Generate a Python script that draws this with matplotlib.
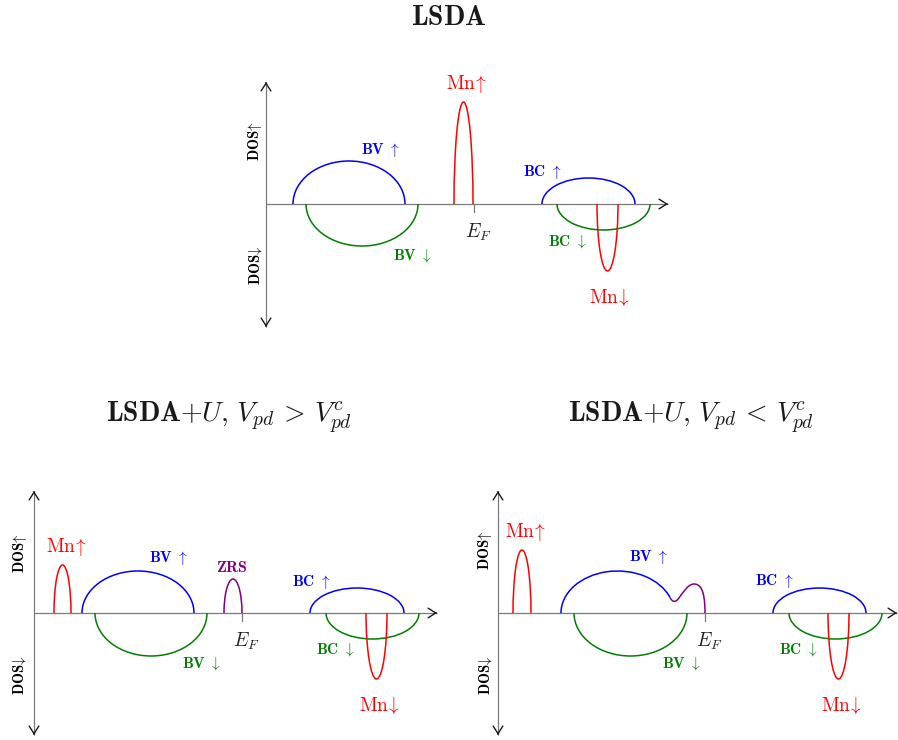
import numpy as np
import matplotlib
matplotlib.use("Agg")
import matplotlib.pyplot as plt
from matplotlib.patches import Arc, PathPatch
from matplotlib.path import Path

plt.rcParams['mathtext.fontset'] = 'cm'
plt.rcParams['font.family'] = ['DejaVu Serif']

# ---------------- data (energy / DOS in arbitrary units) ----------------
# Panel 1: LSDA
lsda_up_kind = ["BV", "Mn", "BC"]
lsda_up_lo = [27, 188, 276]
lsda_up_hi = [139, 207, 369]
lsda_up_h = [43, 102, 26]
lsda_dn_kind = ["BV", "BC", "Mn"]
lsda_dn_lo = [40, 291, 331]
lsda_dn_hi = [152, 384, 352]
lsda_dn_h = [42, 26, 67]
lsda_EF = 208

# Panel 2: LSDA+U, Vpd > Vpd^c
u1_up_kind = ["Mn", "BV", "ZRS", "BC"]
u1_up_lo = [20, 48, 190, 276]
u1_up_hi = [37, 160, 208, 370]
u1_up_h = [48, 42, 34, 25]
u1_dn_kind = ["BV", "BC", "Mn"]
u1_dn_lo = [61, 292, 332]
u1_dn_hi = [173, 385, 353]
u1_dn_h = [43, 26, 66]
u1_EF = 208

# Panel 3: LSDA+U, Vpd < Vpd^c
u2_up_kind = ["Mn", "BV", "BC"]
u2_up_lo = [15, 63, 275]
u2_up_hi = [33, 176, 368]
u2_up_h = [63, 42, 25]
u2_dn_kind = ["BV", "BC", "Mn"]
u2_dn_lo = [76, 291, 330]
u2_dn_hi = [189, 384, 351]
u2_dn_h = [43, 26, 66]
u2_EF = 207
# ZRS shoulder merged into the top of BV (Bezier control points)
u2_zrs_E = [172, 174, 177, 181, 184.6, 190, 196, 202, 207, 207]
u2_zrs_D = [15.5, 11.5, 9.5, 15, 20, 29, 29, 29, 24, 0]

# ---------------- styles / layout ----------------
W, H = 898, 740
C_UP = {"BV": "#0000ff", "BC": "#0000ff", "Mn": "#ff0000", "ZRS": "#800080"}
C_DN = {"BV": "#008000", "BC": "#008000", "Mn": "#ff0000"}
AXIS_C = "#7a7a7a"
HEAD_C = "#1a1a1a"
LW = 1.1

fig = plt.figure(figsize=(W / 100, H / 100), dpi=100)


def make_ax(ox, oy):
    # axes whose data origin sits at pixel (ox, oy) of the figure
    x0, x1 = -60, 420
    y0, y1 = -135, 135
    ax = fig.add_axes([(ox + x0) / W, (H - oy + y0) / H, (x1 - x0) / W, (y1 - y0) / H])
    ax.set_xlim(x0, x1)
    ax.set_ylim(y0, y1)
    ax.axis("off")
    return ax


def draw_axes(ax, xend, ytop, ybot, ef):
    ax.plot([0, xend], [0, 0], color=AXIS_C, lw=0.9, zorder=1, solid_capstyle="butt")
    ax.plot([0, 0], [ybot, ytop], color=AXIS_C, lw=0.9, zorder=1, solid_capstyle="butt")
    style = "->,head_length=0.55,head_width=0.35"
    for tip, tail in [((xend, 0), (xend - 2, 0)), ((0, ytop), (0, ytop - 2)), ((0, ybot), (0, ybot + 2))]:
        ax.annotate("", xy=tip, xytext=tail,
                    arrowprops=dict(arrowstyle=style, color=HEAD_C, lw=1.0,
                                    shrinkA=0, shrinkB=0))
    ax.plot([ef, ef], [0, -8], color=AXIS_C, lw=0.9, zorder=1)


def draw_bands(ax, kinds, lo, hi, h, up=True, skip=()):
    for k, a, b, hh in zip(kinds, lo, hi, h):
        if k in skip:
            continue
        c = (a + b) / 2
        col = C_UP[k] if up else C_DN[k]
        t1, t2 = (0, 180) if up else (180, 360)
        ax.add_patch(Arc((c, 0), b - a, 2 * hh, theta1=t1, theta2=t2,
                         color=col, lw=LW, zorder=3))


def lab(ax, x, y, s, color, size, **kw):
    ax.text(x, y, s, color=color, fontsize=size, ha="center", va="center", **kw)


BSZ = 11
MSZ = 14
DSZ = 10.5

# ---------- Panel 1 ----------
ax1 = make_ax(266, 204)
draw_axes(ax1, 402, 122, -123, lsda_EF)
draw_bands(ax1, lsda_up_kind, lsda_up_lo, lsda_up_hi, lsda_up_h, up=True)
draw_bands(ax1, lsda_dn_kind, lsda_dn_lo, lsda_dn_hi, lsda_dn_h, up=False)
lab(ax1, 114, 54, r"$\mathbf{BV}\ \uparrow$", C_UP["BV"], BSZ)
lab(ax1, 146, -51, r"$\mathbf{BV}\ \downarrow$", C_DN["BV"], BSZ)
lab(ax1, 200, 120, r"$\mathrm{Mn}\!\uparrow$", C_UP["Mn"], MSZ)
lab(ax1, 276, 32, r"$\mathbf{BC}\ \uparrow$", C_UP["BC"], BSZ)
lab(ax1, 301, -37, r"$\mathbf{BC}\ \downarrow$", C_DN["BC"], BSZ)
lab(ax1, 343, -93, r"$\mathrm{Mn}\!\downarrow$", C_DN["Mn"], MSZ)
lab(ax1, 212, -28, r"$E_F$", "#222222", MSZ)
lab(ax1, -11, 63, r"$\mathbf{DOS}\!\uparrow$", "black", DSZ, rotation=90)
lab(ax1, -11, -61, r"$\mathbf{DOS}\!\downarrow$", "black", DSZ, rotation=90)

# ---------- Panel 2 ----------
ax2 = make_ax(34, 613)
draw_axes(ax2, 403, 122, -122, u1_EF)
draw_bands(ax2, u1_up_kind, u1_up_lo, u1_up_hi, u1_up_h, up=True)
draw_bands(ax2, u1_dn_kind, u1_dn_lo, u1_dn_hi, u1_dn_h, up=False)
lab(ax2, 32, 66, r"$\mathrm{Mn}\!\uparrow$", C_UP["Mn"], MSZ)
lab(ax2, 134, 55, r"$\mathbf{BV}\ \uparrow$", C_UP["BV"], BSZ)
lab(ax2, 198, 45, r"$\mathbf{ZRS}$", C_UP["ZRS"], 11.5)
lab(ax2, 277, 31, r"$\mathbf{BC}\ \uparrow$", C_UP["BC"], BSZ)
lab(ax2, 212, -28, r"$E_F$", "#222222", MSZ)
lab(ax2, 167, -50, r"$\mathbf{BV}\ \downarrow$", C_DN["BV"], BSZ)
lab(ax2, 301, -37, r"$\mathbf{BC}\ \downarrow$", C_DN["BC"], BSZ)
lab(ax2, 345, -92, r"$\mathrm{Mn}\!\downarrow$", C_DN["Mn"], MSZ)
lab(ax2, -14, 60, r"$\mathbf{DOS}\!\uparrow$", "black", DSZ, rotation=90)
lab(ax2, -14, -62, r"$\mathbf{DOS}\!\downarrow$", "black", DSZ, rotation=90)

# ---------- Panel 3 ----------
ax3 = make_ax(498, 613)
draw_axes(ax3, 399, 122, -122, u2_EF)
draw_bands(ax3, u2_up_kind, u2_up_lo, u2_up_hi, u2_up_h, up=True, skip=("BV",))
draw_bands(ax3, u2_dn_kind, u2_dn_lo, u2_dn_hi, u2_dn_h, up=False)
# BV up: arc from left edge to where the ZRS shoulder starts
i = u2_up_kind.index("BV")
a, b, hh = u2_up_lo[i], u2_up_hi[i], u2_up_h[i]
cx, hw = (a + b) / 2, (b - a) / 2
t = np.arcsin(u2_zrs_D[0] / hh)
theta1 = np.degrees(np.arctan2(hh * np.sin(t), hw * np.cos(t)))
ax3.add_patch(Arc((cx, 0), b - a, 2 * hh, theta1=theta1, theta2=180,
                  color=C_UP["BV"], lw=LW, zorder=3))
verts = list(zip(u2_zrs_E, u2_zrs_D))
codes = [Path.MOVETO] + [Path.CURVE4] * (len(verts) - 1)
ax3.add_patch(PathPatch(Path(verts, codes), fill=False, edgecolor=C_UP["ZRS"],
                        lw=LW, zorder=3))
lab(ax3, 27, 81, r"$\mathrm{Mn}\!\uparrow$", C_UP["Mn"], MSZ)
lab(ax3, 150, 56, r"$\mathbf{BV}\ \uparrow$", C_UP["BV"], BSZ)
lab(ax3, 276, 32, r"$\mathbf{BC}\ \uparrow$", C_UP["BC"], BSZ)
lab(ax3, 211, -28, r"$E_F$", "#222222", MSZ)
lab(ax3, 183, -50, r"$\mathbf{BV}\ \downarrow$", C_DN["BV"], BSZ)
lab(ax3, 300, -37, r"$\mathbf{BC}\ \downarrow$", C_DN["BC"], BSZ)
lab(ax3, 343, -92, r"$\mathrm{Mn}\!\downarrow$", C_DN["Mn"], MSZ)
lab(ax3, -13, 63, r"$\mathbf{DOS}\!\uparrow$", "black", DSZ, rotation=90)
lab(ax3, -13, -62, r"$\mathbf{DOS}\!\downarrow$", "black", DSZ, rotation=90)

# ---------- Titles ----------
TSZ = 20
fig.text(449 / W, 1 - 25 / H, r"$\mathbf{LSDA}$", fontsize=TSZ, ha="center", va="baseline", color="#1a1a1a")
fig.text(229 / W, 1 - 422 / H, r"$\mathbf{LSDA{+}}U\mathbf{,}\ V_{pd}\,>\,V_{pd}^{c}$",
         fontsize=TSZ, ha="center", va="baseline", color="#1a1a1a")
fig.text(691 / W, 1 - 422 / H, r"$\mathbf{LSDA{+}}U\mathbf{,}\ V_{pd}\,<\,V_{pd}^{c}$",
         fontsize=TSZ, ha="center", va="baseline", color="#1a1a1a")

fig.savefig("out.png", dpi=100)
